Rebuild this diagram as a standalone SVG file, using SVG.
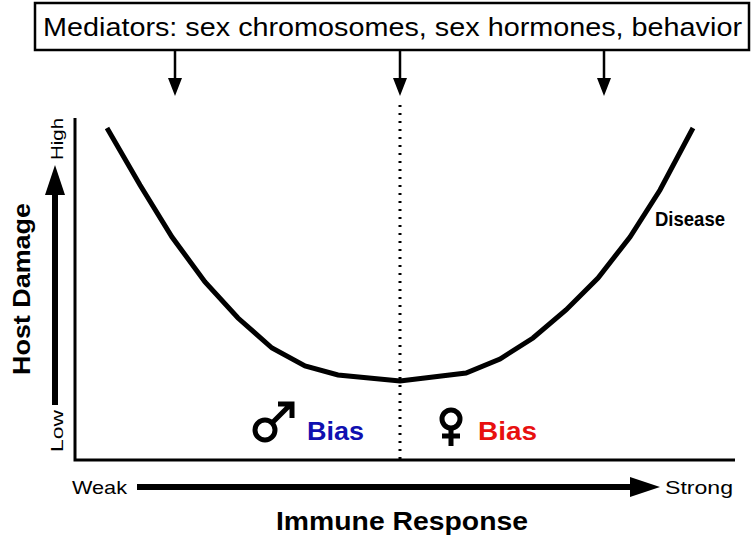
<svg xmlns="http://www.w3.org/2000/svg" width="755" height="538" viewBox="0 0 755 538">
<style>
text{font-family:"Liberation Sans",Arial,sans-serif}
.b{font-weight:bold}
.ln{stroke:#000;fill:none}
</style>
<rect width="755" height="538" fill="#fff"/>
<g id="mediators">
<rect x="35" y="3" width="714" height="47" fill="#fff" stroke="#000" stroke-width="2.5"/>
<text x="43" y="36" font-size="26" textLength="699" lengthAdjust="spacingAndGlyphs">Mediators: sex chromosomes, sex hormones, behavior</text>
</g>
<g id="connectors">
<path class="ln" stroke-width="2.5" d="M175,50V85 M400,50V85 M604,50V85"/>
<path d="M168,78H182L175,96Z M393,78H407L400,96Z M597,78H611L604,96Z"/>
<path class="ln" stroke-width="3" stroke-dasharray="2,6" d="M400,105V460"/>
<path class="ln" stroke-width="3" d="M75,118V460H735"/>
<path class="ln" stroke-width="6" d="M55,405V190"/>
<path d="M45,195H65L55,165Z"/>
<path class="ln" stroke-width="6" d="M137,487H635"/>
<path d="M630,477V497L660,487Z"/>
<path class="ln" stroke-width="5" d="M107,128 L140,185 L172,237 L205,282 L238,318 L272,348 L305,366 L338,375 L400,381 L466,373 L500,359 L533,338 L566,310 L598,278 L630,237 L660,190 L693,128"/>
</g>
<g id="labels">
<text x="0" y="0" font-size="17" transform="translate(63 160) rotate(-90)" textLength="42" lengthAdjust="spacingAndGlyphs">High</text>
<text x="0" y="0" font-size="17" transform="translate(63 452) rotate(-90)" textLength="42" lengthAdjust="spacingAndGlyphs">Low</text>
<text class="b" x="0" y="0" font-size="24" transform="translate(30 375) rotate(-90)" textLength="172" lengthAdjust="spacingAndGlyphs">Host Damage</text>
<text x="72" y="494" font-size="19" textLength="55" lengthAdjust="spacingAndGlyphs">Weak</text>
<text x="665" y="494" font-size="19" textLength="68" lengthAdjust="spacingAndGlyphs">Strong</text>
<text class="b" x="276" y="530" font-size="26" textLength="252" lengthAdjust="spacingAndGlyphs">Immune Response</text>
<text class="b" x="655" y="226" font-size="21" textLength="70" lengthAdjust="spacingAndGlyphs">Disease</text>
</g>
<g id="male">
<circle cx="265" cy="430" r="10" fill="none" stroke="#000" stroke-width="5"/>
<path class="ln" stroke-width="5" d="M272,423L290,405 M278,404H292V418"/>
<text class="b" x="307" y="440" font-size="26" fill="#1010b0" textLength="57" lengthAdjust="spacingAndGlyphs">Bias</text>
</g>
<g id="female">
<circle cx="451" cy="419" r="9" fill="none" stroke="#000" stroke-width="5"/>
<path class="ln" stroke-width="5" d="M451,428V446 M442,436H460"/>
<text class="b" x="478" y="440" font-size="26" fill="#e81010" textLength="59" lengthAdjust="spacingAndGlyphs">Bias</text>
</g>
</svg>
